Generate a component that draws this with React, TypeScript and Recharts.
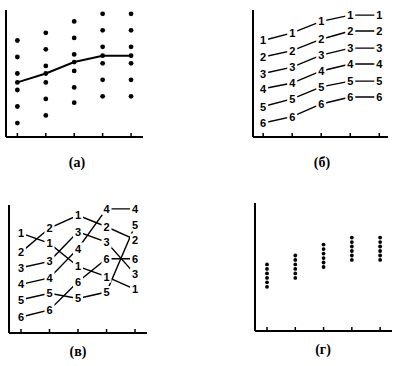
import React from "react";
import { ComposedChart, LineChart, Line, Scatter, XAxis, YAxis } from "recharts";

// five measurement occasions along the x axis
const occasions = [1, 2, 3, 4, 5];

// (а) raw scores of six subjects at each occasion + group mean
const aScores = [
  [7.6, 6.3, 5.0, 3.7, 2.4, 1.1],
  [8.2, 6.9, 5.6, 4.3, 3.0, 1.7],
  [9.1, 7.8, 6.5, 5.2, 3.9, 2.7],
  [9.7, 8.4, 7.1, 5.8, 4.5, 3.2],
  [9.7, 8.4, 7.1, 5.8, 4.5, 3.2],
];
const aMeans = [4.3, 5.0, 5.9, 6.4, 6.4];

// (б) six subjects keep their rank
const bSubjects = [
  [7.6, 8.2, 9.1, 9.6, 9.6],
  [6.3, 6.8, 7.7, 8.35, 8.35],
  [5.0, 5.5, 6.45, 7.0, 7.0],
  [3.8, 4.25, 5.2, 5.75, 5.75],
  [2.4, 3.0, 3.95, 4.4, 4.4],
  [1.1, 1.6, 2.6, 3.15, 3.15],
];
const bLabels = [
  ["1", "1", "1", "1", "1"],
  ["2", "2", "2", "2", "2"],
  ["3", "3", "3", "3", "3"],
  ["4", "4", "4", "4", "4"],
  ["5", "5", "5", "5", "5"],
  ["6", "6", "6", "6", "6"],
];

// (в) six subjects changing rank
const vSubjects = [
  [7.8, 7.0, 5.2, 4.4, 3.4],
  [6.3, 8.2, 9.2, 8.3, 7.3],
  [5.1, 5.6, 7.9, 7.1, 4.6],
  [3.8, 4.3, 6.6, 9.7, 9.7],
  [2.6, 3.1, 2.7, 3.2, 8.4],
  [1.25, 1.8, 4.0, 5.8, 5.8],
];
const vLabels = [
  ["1", "1", "1", "1", "1"],
  ["2", "2", "1", "2", "2"],
  ["3", "3", "3", "3", "3"],
  ["4", "4", "4", "4", "4"],
  ["5", "5", "5", "5", "5"],
  ["6", "6", "6", "6", "6"],
];

// (г) tight clusters of six scores per occasion
const gScores = [
  [5.2, 4.85, 4.5, 4.15, 3.8, 3.45],
  [5.9, 5.55, 5.2, 4.85, 4.5, 4.15],
  [6.75, 6.4, 6.05, 5.7, 5.35, 5.0],
  [7.3, 6.95, 6.6, 6.25, 5.9, 5.55],
  [7.3, 6.95, 6.6, 6.25, 5.9, 5.55],
];

const PAD = 8;
const margin = { top: PAD, right: PAD, bottom: PAD, left: PAD };

const toPoints = (cols: number[][]) =>
  cols.flatMap((vals, i) => vals.map((v) => ({ x: occasions[i], y: v })));

const toRows = (lines: number[][]) =>
  occasions.map((x, i) => {
    const row: Record<string, number> = { x };
    lines.forEach((l, k) => (row[`s${k}`] = l[i]));
    return row;
  });

const axes = (domain: [number, number]) => [
  <XAxis
    key="x"
    type="number"
    dataKey="x"
    domain={domain}
    ticks={occasions}
    allowDataOverflow
    height={1}
    mirror
    tickSize={4}
    tickFormatter={() => ""}
    axisLine={{ stroke: "#000", strokeWidth: 2 }}
    tickLine={{ stroke: "#000", strokeWidth: 1.5 }}
  />,
  <YAxis
    key="y"
    type="number"
    dataKey="y"
    domain={[0, 10]}
    allowDataOverflow
    width={1}
    tick={false}
    tickLine={false}
    axisLine={{ stroke: "#000", strokeWidth: 2 }}
  />,
];

const dot = (r: number) => (p: any) => (
  <circle key={`${p.cx}-${p.cy}`} cx={p.cx} cy={p.cy} r={r} fill="#000" />
);

const tag = (txt: string[]) => (p: any) => (
  <g key={`t${p.index}`}>
    <rect x={p.cx - 5} y={p.cy - 6} width={10} height={12} fill="#fff" />
    <text
      x={p.cx}
      y={p.cy}
      dy={4}
      textAnchor="middle"
      fontSize={11}
      fontWeight="bold"
      fontFamily="'Liberation Sans', Arial, sans-serif"
      fill="#000"
    >
      {txt[p.index]}
    </text>
  </g>
);

const RankPanel = ({
  lines,
  labels,
  domain,
  w,
  h,
}: {
  lines: number[][];
  labels: string[][];
  domain: [number, number];
  w: number;
  h: number;
}) => (
  <LineChart width={w + 2 * PAD} height={h + 2 * PAD} data={toRows(lines)} margin={margin}>
    {axes(domain)}
    {lines.map((_, k) => (
      <Line
        key={`l${k}`}
        dataKey={`s${k}`}
        stroke="#000"
        strokeWidth={1.4}
        dot={false}
        activeDot={false}
        isAnimationActive={false}
      />
    ))}
    {lines.map((_, k) => (
      <Line
        key={`d${k}`}
        dataKey={`s${k}`}
        stroke="none"
        dot={tag(labels[k])}
        activeDot={false}
        isAnimationActive={false}
      />
    ))}
  </LineChart>
);

const caption: React.CSSProperties = {
  position: "absolute",
  width: 40,
  textAlign: "center",
  fontFamily: "'Liberation Serif', 'DejaVu Serif', serif",
  fontWeight: "bold",
  fontSize: 14,
  lineHeight: "18px",
};

// place a chart so that its plot area's top-left corner lands on (left, top)
const box = (left: number, top: number): React.CSSProperties => ({
  position: "absolute",
  left: left - PAD,
  top: top - PAD,
});

export default function App() {
  const meanPts = aMeans.map((y, i) => ({ x: occasions[i], y }));
  return (
    <div style={{ position: "absolute", left: 0, top: 0, width: 397, height: 366, background: "#fff" }}>
      <div style={box(5, 10)}>
        <ComposedChart width={138 + 2 * PAD} height={127 + 2 * PAD} margin={margin}>
          {axes([0.6, 5.42])}
          <Scatter data={toPoints(aScores)} dataKey="y" shape={dot(2.4)} isAnimationActive={false} />
          <Scatter
            data={meanPts}
            dataKey="y"
            line={{ stroke: "#000", strokeWidth: 2 }}
            shape={dot(2.4)}
            isAnimationActive={false}
          />
        </ComposedChart>
      </div>
      <div style={box(252, 10)}>
        <RankPanel lines={bSubjects} labels={bLabels} domain={[0.65, 5.3]} w={136} h={127} />
      </div>
      <div style={box(8, 205)}>
        <RankPanel lines={vSubjects} labels={vLabels} domain={[0.58, 5.42]} w={139} h={128} />
      </div>
      <div style={box(254, 203)}>
        <ComposedChart width={138 + 2 * PAD} height={128 + 2 * PAD} margin={margin}>
          {axes([0.575, 5.42])}
          <Scatter data={toPoints(gScores)} dataKey="y" shape={dot(1.9)} isAnimationActive={false} />
        </ComposedChart>
      </div>
      <div style={{ ...caption, left: 57, top: 154 }}>(а)</div>
      <div style={{ ...caption, left: 302, top: 154 }}>(б)</div>
      <div style={{ ...caption, left: 58, top: 343 }}>(в)</div>
      <div style={{ ...caption, left: 303, top: 341 }}>(г)</div>
    </div>
  );
}
